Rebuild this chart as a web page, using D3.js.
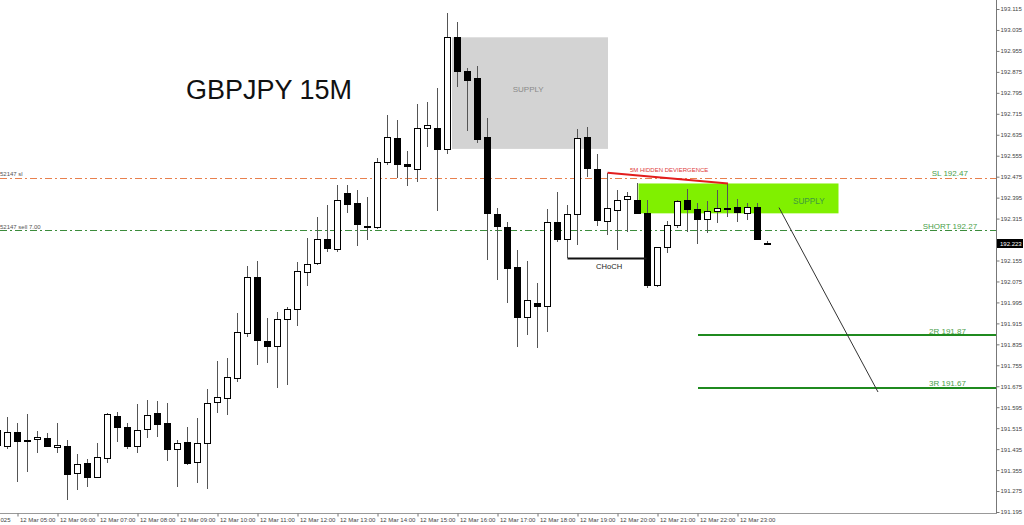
<!DOCTYPE html>
<html><head><meta charset="utf-8">
<script src="https://cdn.jsdelivr.net/npm/d3@7"></script>
<style>html,body{margin:0;padding:0;background:#fff;} svg{display:block;font-family:"Liberation Sans",Arial,sans-serif;}</style>
</head><body>
<svg id="c" width="1024" height="525"></svg>
<script>
// ---- DATA (GBPJPY 15M, 12 Mar; first bar = index -1 = 04:30) ----
const firstIndex = -1;
const opens = [191.451,191.448,191.501,191.470,191.473,191.477,191.443,191.448,191.343,191.381,
191.327,191.400,191.562,191.520,191.448,191.510,191.572,191.533,191.434,191.461,
191.386,191.457,191.614,191.629,191.705,191.879,192.091,191.848,191.828,191.931,
191.969,192.110,192.144,192.237,192.198,192.412,192.374,192.288,192.284,192.532,
192.624,192.523,192.503,192.659,192.659,192.579,193.007,192.878,192.852,192.627,
192.332,192.284,192.129,191.938,191.994,191.981,192.303,192.237,192.332,192.625,
192.505,192.307,192.348,192.388,192.386,192.335,192.061,192.205,192.290,192.386,
192.351,192.313,192.345,192.354,192.358,192.337,192.360,192.223];
const closes = [191.508,191.501,191.467,191.465,191.481,191.447,191.449,191.339,191.378,191.327,
191.404,191.568,191.518,191.448,191.507,191.564,191.531,191.434,191.457,191.383,
191.457,191.610,191.633,191.709,191.881,192.091,191.851,191.830,191.931,191.970,
192.116,192.141,192.237,192.201,192.386,192.370,192.294,192.281,192.532,192.627,
192.522,192.515,192.662,192.671,192.579,193.007,192.878,192.844,192.619,192.335,
192.286,192.125,191.940,192.004,191.981,192.301,192.236,192.331,192.621,192.507,
192.309,192.354,192.386,192.402,192.335,192.061,192.205,192.290,192.383,192.351,
192.313,192.345,192.354,192.354,192.341,192.360,192.236,192.223];
const highs = [191.546,191.559,191.535,191.569,191.504,191.496,191.535,191.470,191.416,191.397,
191.458,191.573,191.577,191.536,191.607,191.622,191.619,191.612,191.470,191.518,
191.552,191.664,191.771,191.783,191.953,192.135,192.153,191.934,191.957,191.976,
192.148,192.240,192.322,192.367,192.443,192.443,192.424,192.397,192.545,192.710,
192.691,192.573,192.752,192.759,192.812,193.098,193.064,192.891,192.898,192.700,
192.354,192.303,192.195,192.154,192.070,192.350,192.417,192.367,192.656,192.665,
192.561,192.490,192.424,192.417,192.449,192.386,192.207,192.307,192.386,192.427,
192.375,192.383,192.424,192.449,192.388,192.375,192.373,192.231];
const lows = [191.310,191.434,191.310,191.348,191.420,191.443,191.420,191.241,191.279,191.291,
191.325,191.383,191.463,191.434,191.419,191.478,191.482,191.391,191.289,191.374,
191.307,191.283,191.572,191.565,191.691,191.864,191.756,191.762,191.668,191.680,
191.906,192.059,192.138,192.188,192.186,192.335,192.210,192.233,192.275,192.519,
192.469,192.440,192.456,192.589,192.345,192.560,192.818,192.650,192.604,192.157,
192.080,191.991,191.826,191.870,191.820,191.883,192.227,192.163,192.214,192.472,
192.286,192.252,192.195,192.265,192.333,192.049,192.055,192.182,192.278,192.265,
192.218,192.261,192.299,192.322,192.303,192.309,192.233,192.215];

const timeTickIndex = [1,5,9,13,17,21,25,29,33,37,41,45,49,53,57,61,65,69,73];
const timeTickLabels = ["12 Mar 05:00","12 Mar 06:00","12 Mar 07:00","12 Mar 08:00","12 Mar 09:00",
"12 Mar 10:00","12 Mar 11:00","12 Mar 12:00","12 Mar 13:00","12 Mar 14:00","12 Mar 15:00",
"12 Mar 16:00","12 Mar 17:00","12 Mar 18:00","12 Mar 19:00","12 Mar 20:00","12 Mar 21:00",
"12 Mar 22:00","12 Mar 23:00"];
const firstDateLabelVisible = "025";
const priceTicks = [193.115,193.035,192.955,192.875,192.795,192.715,192.635,192.555,192.475,192.395,
192.315,192.235,192.155,192.075,191.995,191.915,191.835,191.755,191.675,191.595,191.515,191.435,
191.355,191.275,191.195];
const hiddenPriceTick = 192.235; // covered by the current-price tag
const lastPrice = 192.223;

// zones: [fromIndex, toIndex, topPrice, bottomPrice]
const greySupply = [44.45, 60.05, 193.007, 192.581];
const greenSupply = [63.1, 83.1, 192.449, 192.335];
// levels
const levelNames = ["SL", "SHORT", "2R", "3R"];
const levelPrices = [192.47, 192.27, 191.87, 191.67];
// annotation lines: [i1, p1, i2, p2]
const divergenceLine = [60, 192.490, 72.05, 192.449];
const chochLine = [56, 192.163, 63.9, 192.163];
const projectionLine = [77.15, 192.357, 87.05, 191.653];

// ---- CHART ----
const svg = d3.select("#c");
const plotRight = 996, plotBottom = 513;
const x = d3.scaleLinear().domain([0, 73]).range([7.5, 737.5]);
const y = d3.scaleLinear().domain([191.195, 193.115]).range([512, 9]);

svg.append("rect").attr("width",1024).attr("height",525).attr("fill","#fff");
svg.append("defs").append("clipPath").attr("id","plot")
  .append("rect").attr("x",0).attr("y",0).attr("width",plotRight).attr("height",plotBottom);
const g = svg.append("g").attr("clip-path","url(#plot)");

// zones
function zone(z, fill){
  g.append("rect").attr("x", x(z[0])).attr("width", x(z[1]) - x(z[0]))
   .attr("y", y(z[2])).attr("height", y(z[3]) - y(z[2])).attr("fill", fill);
}
zone(greySupply, "#d3d3d3");
zone(greenSupply, "#80f000");

// level lines
const lvlStyle = {
  "SL":    {stroke:"#e8804e", dash:"7,3,2,3", w:1, x0:0},
  "SHORT": {stroke:"#3c8c3c", dash:"7,3,2,3", w:1, x0:0},
  "2R":    {stroke:"#1f8a1f", dash:null, w:2, x0:x(69.05)},
  "3R":    {stroke:"#1f8a1f", dash:null, w:2, x0:x(69.05)}
};
levelNames.forEach((n,i)=>{
  const s = lvlStyle[n];
  const yy = Math.round(y(levelPrices[i])) + (s.w===1?0.5:0);
  g.append("line").attr("x1", s.x0).attr("x2", plotRight).attr("y1", yy).attr("y2", yy)
   .attr("stroke", s.stroke).attr("stroke-width", s.w).attr("stroke-dasharray", s.dash);
});

// candles
const candles = opens.map((o,k)=>({i:k+firstIndex, o, h:highs[k], l:lows[k], c:closes[k]}));
g.selectAll(".wick").data(candles).join("line").attr("class","wick")
  .attr("x1", d=>x(d.i)).attr("x2", d=>x(d.i))
  .attr("y1", d=>Math.round(y(d.h))).attr("y2", d=>Math.round(y(d.l)))
  .attr("stroke", "#555").attr("stroke-width", 1);
g.selectAll(".body").data(candles).join("rect").attr("class","body")
  .attr("x", d=>x(d.i)-3).attr("width", 6)
  .attr("y", d=>Math.round(y(Math.max(d.o,d.c)))+0.5)
  .attr("height", d=>Math.max(1, Math.round(y(Math.min(d.o,d.c))) - Math.round(y(Math.max(d.o,d.c)))))
  .attr("fill", d=> d.c > d.o ? "#fff" : "#000")
  .attr("stroke", "#000").attr("stroke-width", 1);

// annotation lines
function seg(a, stroke, w){
  g.append("line").attr("x1", x(a[0])).attr("y1", y(a[1])).attr("x2", x(a[2])).attr("y2", y(a[3]))
   .attr("stroke", stroke).attr("stroke-width", w);
}
seg(divergenceLine, "#e21d1d", 2);
seg(chochLine, "#111", 2);
seg(projectionLine, "#333", 1);

// texts
function txt(t, i, p, size, fill, anchor){
  g.append("text").attr("x", x(i)).attr("y", y(p)).text(t)
   .attr("font-size", size).attr("fill", fill).attr("text-anchor", anchor||"start");
}
g.append("text").attr("x",186).attr("y",99).text("GBPJPY 15M").attr("font-size",27).attr("fill","#111");
txt("SUPPLY", 50.52, 192.798, 8, "#8a8a8a");
txt("SUPPLY", 78.55, 192.372, 8.2, "#3f9a3f");
txt("5M HIDDEN DEVIERGENCE", 62.25, 192.493, 6, "#e03a3a");
txt("CHoCH", 58.85, 192.124, 7.6, "#222");
const lvlLabelIdx = {"SL":92.42, "SHORT":91.52, "2R":92.15, "3R":92.15};
levelNames.forEach((n,i)=>{
  txt(n + " " + levelPrices[i].toFixed(2), lvlLabelIdx[n], levelPrices[i] + 0.006, 8, "#4aa04a");
});
svg.append("text").attr("x",0).attr("y", y(192.47)-1.5).text("52147 sl").attr("font-size",6).attr("fill","#555");
svg.append("text").attr("x",0).attr("y", y(192.27)-1.5).text("52147 sell 7.00").attr("font-size",6).attr("fill","#555");

// axes frame
svg.append("line").attr("x1",plotRight+0.5).attr("x2",plotRight+0.5).attr("y1",0).attr("y2",plotBottom+1).attr("stroke","#777");
svg.append("line").attr("x1",0).attr("x2",plotRight+1).attr("y1",plotBottom+0.5).attr("y2",plotBottom+0.5).attr("stroke","#999");

// price axis
const ya = svg.append("g").attr("transform",`translate(${plotRight+0.5},0)`)
  .call(d3.axisRight(y).tickValues(priceTicks).tickSize(3).tickSizeOuter(0).tickPadding(1)
  .tickFormat(d => d === hiddenPriceTick ? "" : d3.format(".3f")(d)));
ya.select(".domain").remove();
ya.selectAll("line").attr("stroke","#777");
ya.selectAll("text").attr("font-size",6).attr("fill","#444").attr("font-family","Liberation Sans, Arial, sans-serif");

// current price tag
svg.append("rect").attr("x",997).attr("y",Math.round(y(lastPrice))-4).attr("width",26).attr("height",9).attr("fill","#000");
svg.append("text").attr("x",1000).attr("y",Math.round(y(lastPrice))+2.5).text(lastPrice.toFixed(3))
  .attr("font-size",6).attr("fill","#fff");

// time axis
const xa = svg.append("g").attr("transform",`translate(0,${plotBottom+0.5})`)
  .call(d3.axisBottom(x).tickValues(timeTickIndex).tickSize(3).tickSizeOuter(0)
  .tickFormat((d,i)=>timeTickLabels[i]));
xa.select(".domain").remove();
xa.selectAll("line").attr("stroke","#777");
xa.selectAll("text").attr("text-anchor","start").attr("x",2).attr("y",8).attr("dy",0)
  .attr("font-size",6).attr("fill","#444").attr("font-family","Liberation Sans, Arial, sans-serif");
svg.append("text").attr("x",0.5).attr("y",plotBottom+8.5)
  .text(firstDateLabelVisible).attr("font-size",6).attr("fill","#444");
</script>
</body></html>
